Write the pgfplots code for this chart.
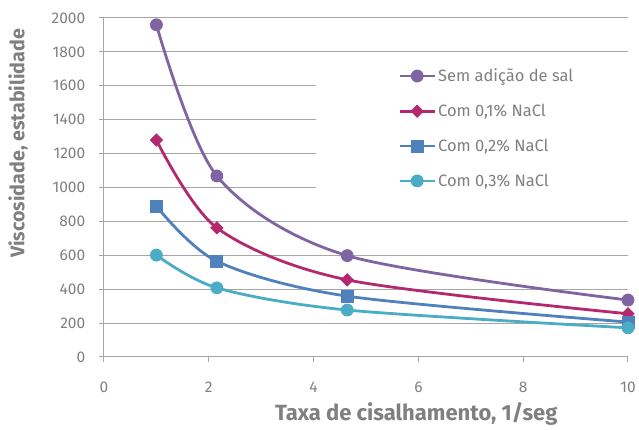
\documentclass[border=0pt]{standalone}
\usepackage{pgfplots}
\pgfplotsset{compat=1.18}
\usepackage{fontspec}
\setmainfont{Fira Sans}
\definecolor{cpur}{HTML}{8064A2}
\definecolor{cmag}{HTML}{B3296F}
\definecolor{cblu}{HTML}{4F81BD}
\definecolor{ccya}{HTML}{4BACC6}
\definecolor{tgray}{HTML}{808080}
\definecolor{ggray}{HTML}{A6A6A6}
\begin{document}
\begin{tikzpicture}
\begin{axis}[
  scale only axis, width=524pt, height=339pt,
  xmin=0, xmax=10, ymin=0, ymax=2000,
  xtick={0,2,...,10}, ytick={0,200,...,2000},
  /pgf/number format/assume math mode=true,
  /pgf/number format/1000 sep={},
  ticklabel style={font=\fontsize{15.5}{17}\selectfont, text=tgray},
  axis x line*=bottom, axis y line*=left,
  axis line style={draw=ggray, line width=1pt, -},
  tick style={draw=ggray, line width=1pt},
  tick align=outside, major tick length=5pt,
  ymajorgrids, grid style={draw=ggray, line width=1pt},
  xticklabel style={anchor=center, yshift=-25pt},
  yticklabel style={anchor=east, xshift=-9pt},
  xlabel={\textbf{Taxa de cisalhamento, 1/seg}},
  ylabel={\textbf{Viscosidade, estabilidade}},
  label style={text=tgray},
  xlabel style={font=\fontsize{22}{24}\selectfont, at={(axis description cs:0.596,0)}, anchor=base, yshift=-64pt},
  ylabel style={font=\fontsize{19.7}{22}\selectfont, at={(axis description cs:-0.164,0.63)}, anchor=center},
  legend style={draw=none, fill=none, at={(rel axis cs:0.559,0.86)}, anchor=north west,
    font=\fontsize{16.5}{19}\selectfont, text=tgray, row sep=17pt, cells={anchor=west},
    inner sep=0pt},
  legend image code/.code={\draw[#1, mark repeat=2, mark phase=2] plot coordinates {(0pt,0pt) (17.5pt,0pt) (35pt,0pt)};},
  line width=2.8pt,
]
\coordinate (ll) at (rel axis cs:0,0);
\coordinate (ur) at (rel axis cs:1,1);
\fill[white] (rel axis cs:0.405,0.45) rectangle (rel axis cs:1.02,0.87);
\addplot[cpur, smooth, mark=*, mark size=6pt, mark options={line width=0.8pt}] coordinates {(1,1960) (2.154,1068) (4.642,598) (10,336)};
\addlegendentry{Sem adição de sal}
\addplot[cmag, smooth, mark=square*, mark size=4.3pt, mark options={line width=0.8pt, rotate=45}] coordinates {(1,1280) (2.154,762) (4.642,455) (10,255)};
\addlegendentry{Com 0,1\% NaCl}
\addplot[cblu, smooth, mark=square*, mark size=6pt, mark options={line width=0.8pt}] coordinates {(1,890) (2.154,565) (4.642,359) (10,206)};
\addlegendentry{Com 0,2\% NaCl}
\addplot[ccya, smooth, mark=*, mark size=6pt, mark options={line width=0.8pt}] coordinates {(1,601) (2.154,408) (4.642,277) (10,172)};
\addlegendentry{Com 0,3\% NaCl}
\end{axis}
\path (ll) +(-104pt,-72pt) (ur) +(11pt,18pt);
\end{tikzpicture}
\end{document}
